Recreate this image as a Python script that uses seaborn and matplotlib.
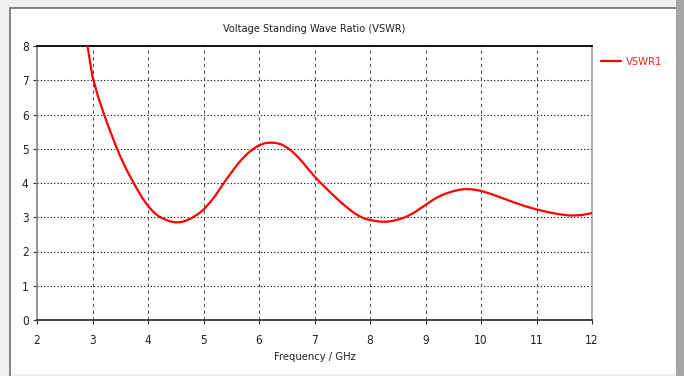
import matplotlib
matplotlib.use("Agg")
import matplotlib.pyplot as plt
from matplotlib import font_manager
from matplotlib.patches import Rectangle
import seaborn as sns
import pandas as pd

# VSWR curve samples (frequency in GHz, ratio)
freq_ghz = [2.91, 3.0, 3.1, 3.2, 3.3, 3.4, 3.5, 3.6, 3.7, 3.8, 3.9, 4.0,
            4.1, 4.2, 4.3, 4.4, 4.5, 4.6, 4.7, 4.8, 4.9, 5.0, 5.1, 5.2,
            5.3, 5.4, 5.5, 5.6, 5.7, 5.8, 5.9, 6.0, 6.1, 6.2, 6.3, 6.4,
            6.5, 6.6, 6.7, 6.8, 6.9, 7.0, 7.1, 7.2, 7.3, 7.4, 7.5, 7.6,
            7.7, 7.8, 7.9, 8.0, 8.1, 8.2, 8.3, 8.4, 8.5, 8.6, 8.7, 8.8,
            8.9, 9.0, 9.1, 9.2, 9.3, 9.4, 9.5, 9.6, 9.7, 9.8, 9.9, 10.0,
            10.2, 10.4, 10.6, 10.8, 11.0, 11.2, 11.4, 11.6, 11.8, 12.0]
vswr = [8.0, 7.1, 6.52, 6.04, 5.59, 5.17, 4.78, 4.43, 4.12, 3.83, 3.56, 3.33,
        3.15, 3.02, 2.94, 2.88, 2.85, 2.86, 2.91, 2.99, 3.09, 3.22, 3.4, 3.6,
        3.84, 4.08, 4.3, 4.52, 4.71, 4.87, 5.0, 5.1, 5.16, 5.18, 5.17, 5.13,
        5.04, 4.92, 4.76, 4.58, 4.38, 4.19, 4.02, 3.86, 3.7, 3.55, 3.4, 3.27,
        3.14, 3.04, 2.96, 2.92, 2.89, 2.87, 2.87, 2.89, 2.93, 2.98, 3.05, 3.14,
        3.25, 3.36, 3.47, 3.57, 3.65, 3.71, 3.76, 3.8, 3.82, 3.82, 3.8, 3.77,
        3.67, 3.55, 3.43, 3.32, 3.23, 3.15, 3.09, 3.05, 3.06, 3.12]

x_ticks = [2, 3, 4, 5, 6, 7, 8, 9, 10, 11, 12]
y_ticks = [0, 1, 2, 3, 4, 5, 6, 7, 8]
series_name = "VSWR1"
title = "Voltage Standing Wave Ratio (VSWR)"
x_label = "Frequency / GHz"

sns.set_style("white")

# register any narrow/condensed sans faces so a condensed stretch can be used
for f in font_manager.findSystemFonts():
    if ("Narrow" in f or "Condensed" in f) and "Bold" not in f \
            and "Italic" not in f and "Oblique" not in f:
        try:
            font_manager.fontManager.addfont(f)
        except Exception:
            pass
plt.rcParams["font.family"] = ["Liberation Sans Narrow", "DejaVu Sans"]
plt.rcParams["font.stretch"] = "condensed"

W, H = 684, 376
fig = plt.figure(figsize=(W / 100, H / 100), dpi=100)
fig.patch.set_facecolor("#f0f0f0")


def fx(px):
    return px / W


def fy(py):
    return 1 - py / H


# white panel with a thin dark border on the left/top
fig.patches.append(Rectangle((fx(10), fy(374)), fx(666), 366 / H,
                             transform=fig.transFigure, facecolor="white",
                             edgecolor="none", zorder=-5))
fig.lines.append(plt.Line2D([fx(10), fx(10)], [fy(8), fy(376)],
                            transform=fig.transFigure, color="#707070",
                            lw=1.2, zorder=-4))
fig.lines.append(plt.Line2D([fx(10), fx(676)], [fy(8), fy(8)],
                            transform=fig.transFigure, color="#707070",
                            lw=1.2, zorder=-4))
# right-hand gray bar
fig.patches.append(Rectangle((fx(676), 0), fx(8), 1, transform=fig.transFigure,
                             facecolor="#a6a6a6", edgecolor="none", zorder=-5))

ax = fig.add_axes([fx(37), fy(320), fx(555), (320 - 46) / H])
ax.set_facecolor("white")

df = pd.DataFrame({"freq": freq_ghz, "vswr": vswr})
sns.lineplot(data=df, x="freq", y="vswr", ax=ax, color="#ff0000", lw=1.6,
             label=series_name, zorder=3)

ax.set_xlim(2, 12)
ax.set_ylim(0, 8)
ax.set_xticks(x_ticks)
ax.set_yticks(y_ticks)
ax.set_xticklabels([str(t) for t in x_ticks])
ax.set_yticklabels([str(t) for t in y_ticks])

for y in y_ticks[1:-1]:
    ax.axhline(y, color="black", lw=0.8, ls=(0, (1, 2)), zorder=1)
for x in x_ticks[1:-1]:
    ax.axvline(x, color="#555555", lw=0.8, ls=(0, (3, 3)), zorder=1)

ax.spines["top"].set_color("black")
ax.spines["top"].set_linewidth(1.3)
ax.spines["bottom"].set_color("#333333")
ax.spines["bottom"].set_linewidth(1.3)
ax.spines["left"].set_color("#808080")
ax.spines["left"].set_linewidth(1.2)
ax.spines["right"].set_color("#a0a0a0")
ax.spines["right"].set_linewidth(1.2)

ax.tick_params(axis="both", which="both", direction="out", length=3,
               width=0.8, color="#333333", labelsize=8.5, labelcolor="#222222",
               pad=3, bottom=True, left=True)
ax.tick_params(axis="x", pad=7)

ax.set_xlabel(x_label, fontsize=8, color="#222222", labelpad=4)
ax.set_ylabel("")
fig.text(fx(314), fy(29), title, ha="center", va="center", fontsize=7.8,
         color="#222222")

leg = ax.legend(loc="center left", bbox_to_anchor=(fx(601), fy(62)),
                bbox_transform=fig.transFigure, frameon=False, fontsize=8,
                handlelength=1.8, handletextpad=0.4, borderaxespad=0,
                borderpad=0)
for t in leg.get_texts():
    t.set_color("#ff2020")

fig.savefig("out.png", dpi=100)
